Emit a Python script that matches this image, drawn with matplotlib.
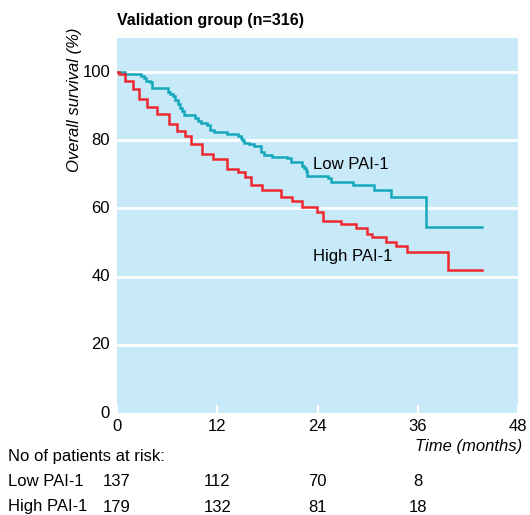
import matplotlib
matplotlib.use("Agg")
import matplotlib.pyplot as plt
import matplotlib.transforms as mtransforms

plt.rcParams['font.family'] = ['Liberation Sans Narrow', 'Liberation Sans', 'DejaVu Sans']

# Data (Kaplan-Meier step curves)
low_t = [0, 1.0, 2.9, 3.2, 3.5, 3.9, 4.2, 6.1, 6.4, 6.7, 7.0, 7.3, 7.5, 7.8, 8.0,
         9.3, 9.7, 10.0, 10.8, 11.1, 11.6, 13.2, 14.5, 14.8, 15.0, 15.2, 15.8, 16.4,
         17.2, 17.6, 18.6, 20.4, 20.8, 22.2, 22.4, 22.6, 22.8, 25.2, 25.6, 28.2, 30.8,
         32.8, 37.0, 43.7]
low_s = [100, 99.5, 98.8, 98.2, 97.5, 97.1, 95.3, 94.3, 93.6, 92.9, 91.9, 90.5, 89.5, 88.5, 87.5,
         86.5, 85.8, 85.2, 84.4, 83.0, 82.3, 81.8, 81.3, 80.8, 80.1, 79.1, 78.8, 78.3,
         76.6, 75.7, 75.2, 74.7, 73.7, 72.5, 71.8, 71.0, 69.5, 68.8, 67.8, 66.9, 65.4,
         63.4, 54.6, 54.6]

high_t = [0, 0.2, 1.0, 1.9, 2.6, 3.6, 4.8, 6.2, 7.2, 8.1, 8.9, 10.2, 11.5, 13.2, 14.5,
          15.3, 16.0, 17.3, 19.6, 21.0, 22.2, 23.9, 24.6, 26.8, 28.6, 29.9, 30.5, 32.2,
          33.4, 34.7, 39.6, 43.7]
high_s = [100, 99.3, 97.3, 95.1, 92.2, 89.9, 87.8, 84.8, 82.7, 81.2, 78.8, 75.9, 74.4, 71.7, 70.8,
          69.3, 66.9, 65.4, 63.4, 62.2, 60.5, 58.9, 56.3, 55.3, 54.3, 52.5, 51.5, 50.3,
          49.0, 47.1, 41.9, 41.9]

x_ticks = [0, 12, 24, 36, 48]
y_ticks = [0, 20, 40, 60, 80, 100]
risk_groups = ["Low PAI-1", "High PAI-1"]
risk_low = [137, 112, 70, 8]
risk_high = [179, 132, 81, 18]
risk_times = [0, 12, 24, 36]

teal = '#14A8BA'
red = '#EE2A30'
bg = '#C8E9F8'

fig = plt.figure(figsize=(5.30, 5.15), dpi=100)
ax = fig.add_axes([117/530, 102/515, 401/530, 375/515])
ax.set_facecolor(bg)
for sp in ax.spines.values():
    sp.set_visible(False)

ax.set_xlim(0, 48)
ax.set_ylim(0, 110)
for y in y_ticks[1:]:
    ax.axhline(y, color='white', lw=2, zorder=1)

ax.step(low_t, low_s, where='post', color=teal, lw=1.8, zorder=3, solid_joinstyle='miter')
ax.step(high_t, high_s, where='post', color=red, lw=1.8, zorder=3, solid_joinstyle='miter')

ax.set_xticks(x_ticks)
ax.set_xticklabels([str(t) for t in x_ticks])
ax.set_yticks(y_ticks)
ax.set_yticklabels([str(t) for t in y_ticks])
ax.tick_params(axis='x', direction='in', length=6, width=1.5, color='white', labelsize=12, pad=4)
ax.tick_params(axis='y', length=0, labelsize=12, pad=5)
for lab in ax.get_yticklabels():
    lab.set_verticalalignment('center')

ax.text(23.5, 73, "Low PAI-1", fontsize=12, ha='left', va='center', zorder=4)
ax.text(23.5, 46, "High PAI-1", fontsize=12, ha='left', va='center', zorder=4)

fig.text(117/530, 1 - 20/515, "Validation group (n=316)", fontsize=11.5, fontweight='bold',
         ha='left', va='center')
fig.text(75/530, 1 - 100/515, "Overall survival (%)", fontsize=12, style='italic',
         rotation=90, ha='center', va='center')
fig.text(522/530, 1 - 447/515, "Time (months)", fontsize=12, style='italic',
         ha='right', va='center')

fig.text(8/530, 1 - 457/515, "No of patients at risk:", fontsize=12, ha='left', va='center')
trans = mtransforms.blended_transform_factory(ax.transData, fig.transFigure)
rows = [risk_low, risk_high]
ys = [482, 507]
for name, vals, yp in zip(risk_groups, rows, ys):
    fig.text(8/530, 1 - yp/515, name, fontsize=12, ha='left', va='center')
    for t, v in zip(risk_times, vals):
        ax.text(t, 1 - yp/515, str(v), transform=trans, fontsize=12, ha='center',
                va='center', clip_on=False)

fig.savefig("out.png", dpi=100, facecolor='white')
